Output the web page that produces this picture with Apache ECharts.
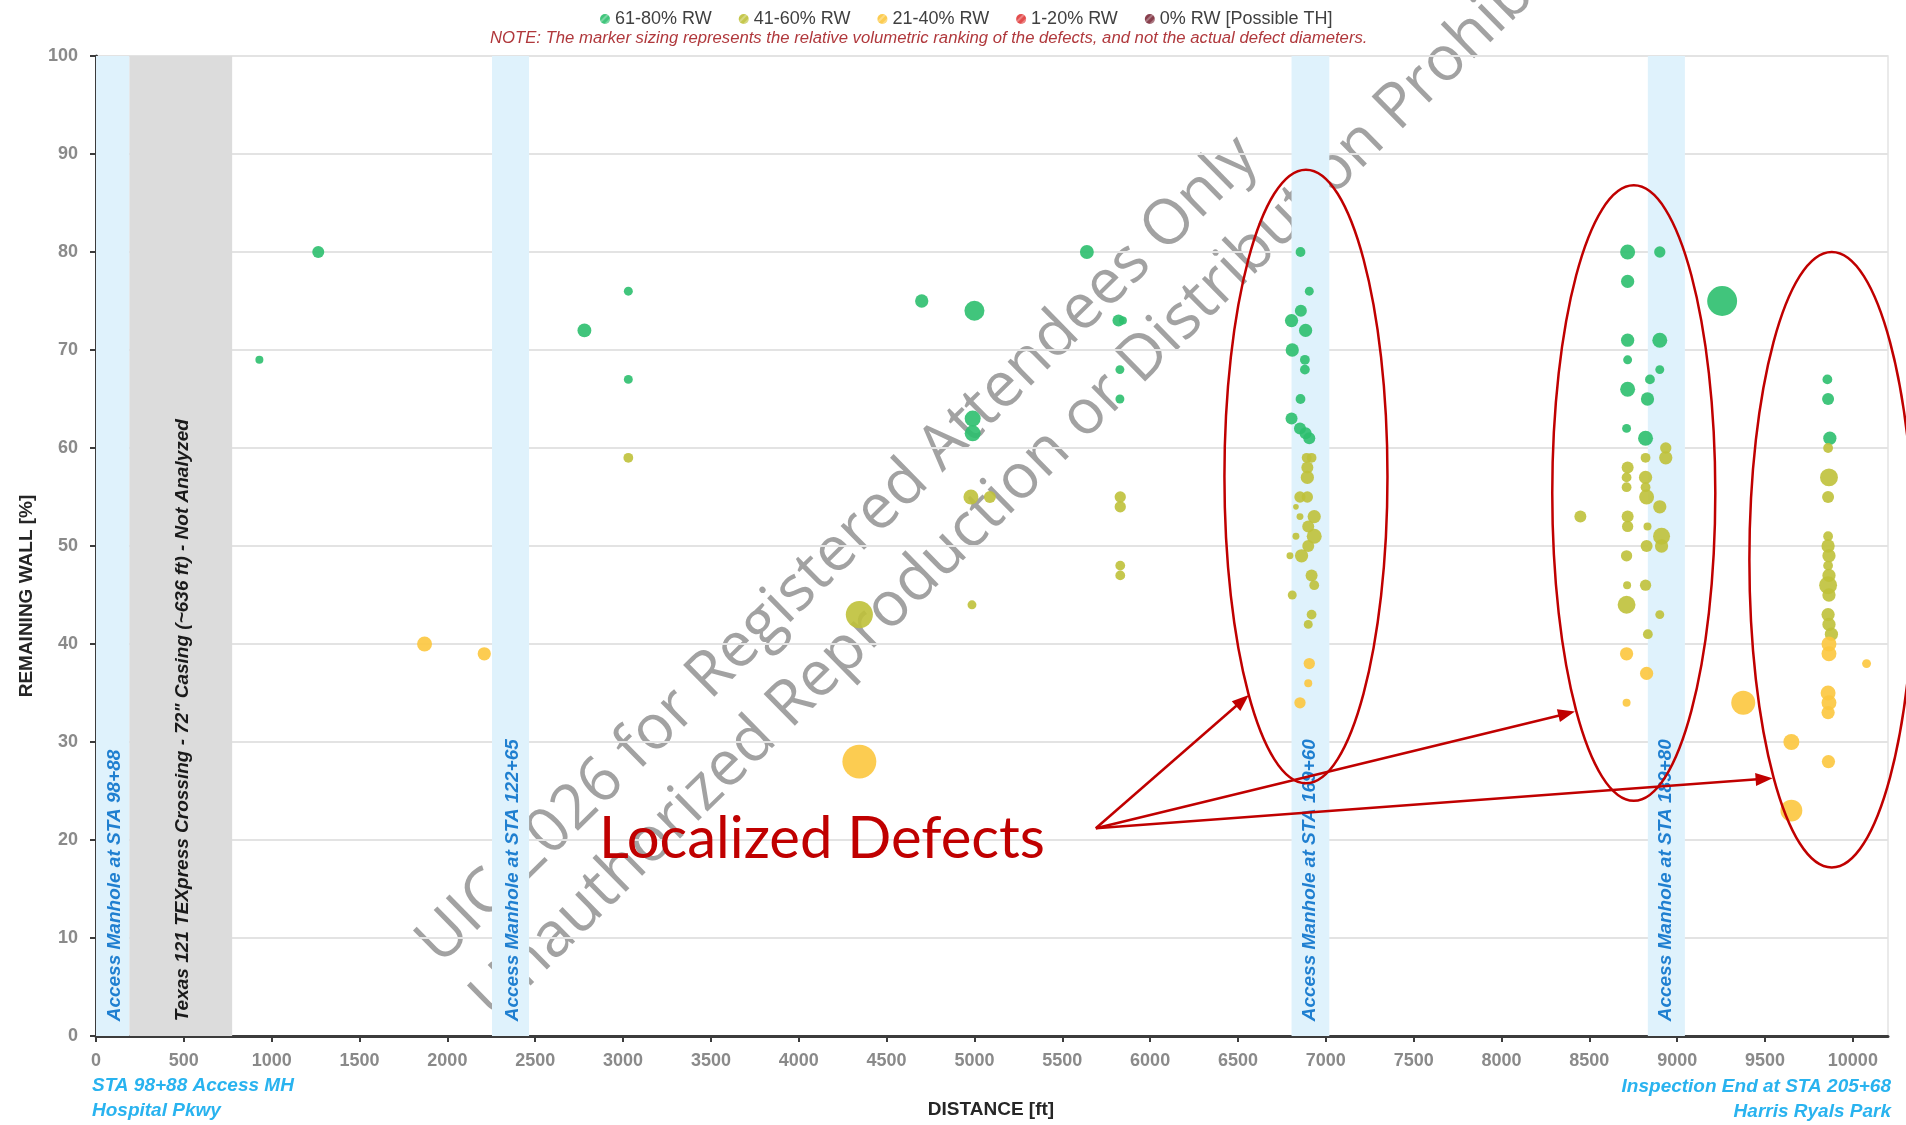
<!DOCTYPE html>
<html>
<head>
<meta charset="utf-8">
<script src="https://cdn.jsdelivr.net/npm/echarts@6/dist/echarts.min.js"></script>
<style>
html,body{margin:0;padding:0;background:#ffffff;}
#c{width:1906px;height:1125px;}
</style>
</head>
<body>
<div id="c"></div>
<script>
// ---------------- DATA ----------------
const seriesNames = ['61-80% RW', '41-60% RW', '21-40% RW', '1-20% RW', '0% RW [Possible TH]'];
const seriesColors = ['#2cbf6e', '#bfc13a', '#fcc63e', '#e03a3a', '#7b2a3a'];

// [distance ft, remaining wall %, relative volumetric ranking]
const rw61to80 = [
  [930,69,4],[1265,80,9],[2780,72,12],[3030,76,5],[3030,67,5],[4700,75,11],[5000,74,25],
  [4990,63,16],[4990,61.5,16],[5640,80,12],[5820,73,9],[5845,73,4],[5828,68,5],[5828,65,5],
  [6856,80,6],[6906,76,5],[6858,74,9],[6805,73,11],[6885,72,11],[6809,70,11],[6881,69,6],
  [6881,68,6],[6856,65,6],[6805,63,9],[6853,62,9],[6885,61.5,9],[6906,61,9],
  [8718,80,14],[8901,80,8],[8718,77,11],[8718,71,11],[8901,71,14],[8718,69,5],[8901,68,5],
  [8845,67,6],[8718,66,14],[8831,65,11],[8712,62,5],[8820,61,14],
  [9256,75,56],
  [9855,67,6],[9859,65,9],[9869,61,11]
];
const rw41to60 = [
  [3030,59,6],[4345,43,46],[4980,55,14],[5088,55,9],[4986,44,5],[5830,55,8],[5830,54,8],
  [5830,48,6],[5830,47,6],
  [6919,59,6],[6891,59,6],[6895,58,9],[6895,57,11],[6853,55,8],[6895,55,8],[6830,54,2],
  [6934,53,11],[6853,53,3],[6900,52,9],[6934,51,14],[6830,51,3],[6900,50,9],[6862,49,11],
  [6796,49,3],[6919,47,9],[6934,46,6],[6809,45,5],[6919,43,6],[6900,42,5],
  [8449,53,9],
  [8935,60,8],[8935,59,11],[8820,59,6],[8718,58,9],[8712,57,6],[8820,57,11],[8712,56,6],
  [8820,56,6],[8826,55,14],[8901,54,11],[8718,53,9],[8718,52,8],[8831,52,4],[8911,51,18],
  [8826,50,9],[8911,50,11],[8712,49,8],[8715,46,4],[8820,46,8],[8712,44,20],[8901,43,5],
  [8833,41,6],
  [9859,60,6],[9864,57,20],[9859,55,9],[9859,51,6],[9859,50,11],[9864,49,11],[9859,48,6],
  [9864,47,11],[9859,46,20],[9864,45,11],[9859,43,11],[9864,42,11],[9878,41,11]
];
const rw21to40 = [
  [1870,40,14],[2210,39,11],[4345,28,72],
  [6906,38,8],[6900,36,4],[6853,34,8],
  [8712,39,11],[8826,37,11],[8712,34,4],
  [9376,34,36],
  [9864,40,14],[9864,39,14],[10078,38,5],[9859,35,14],[9864,34,14],[9859,33,11],
  [9650,30,16],[9861,28,11],[9650,23,30]
];
const rw1to20 = [];
const rw0 = [];

const distanceTicks = [0,500,1000,1500,2000,2500,3000,3500,4000,4500,5000,5500,6000,6500,7000,7500,8000,8500,9000,9500,10000];
const wallTicks = [0,10,20,30,40,50,60,70,80,90,100];

// background zones [from ft, to ft]
const manholeZones = [[0,190],[2254,2465],[6805,7020],[8833,9044]];
const casingZone = [[190,775]];
const zoneLabelX = [108, 495, 2370, 6906, 8936];
const zoneLabelText = [
  'Access Manhole at STA 98+88',
  'Texas 121 TEXpress Crossing - 72" Casing (~636 ft) - Not Analyzed',
  'Access Manhole at STA 122+65',
  'Access Manhole at STA 169+60',
  'Access Manhole at STA 189+80'
];
// highlight ellipses [centre ft, centre %, half-width ft, half-height %]
const clusterEllipses = [[6887,57.1,464,31.3],[8753,55.4,464,31.4],[9880,48.6,469,31.4]];
// arrows [from ft, from %, tip ft, tip %]
const calloutArrows = [[5691,21.2,6562,34.8],[5691,21.2,8418,33.1],[5691,21.2,9543,26.3]];
const calloutText = 'Localized Defects';
const calloutAnchor = [2863, 20.1];

// ---------------- CHART ----------------
const FONT = '"Liberation Sans", Arial, sans-serif';
const chart = echarts.init(document.getElementById('c'));
const hatch = {symbol:'rect', symbolSize:1, dashArrayX:[1,0], dashArrayY:[2,3], rotation:-Math.PI/4, color:'rgba(255,255,255,0.32)'};
const seriesData = [rw61to80, rw41to60, rw21to40, rw1to20, rw0];

const scatterSeries = seriesNames.map((n, i) => ({
  name: n, type: 'scatter', z: 3, data: seriesData[i],
  symbolSize: v => 4 * Math.sqrt(v[2]),
  itemStyle: {color: seriesColors[i], opacity: 0.9, decal: hatch},
  emphasis: {disabled: true}, silent: true
}));

const bandAreas = manholeZones.map(z => [{xAxis: z[0], itemStyle: {color: '#dff2fc'}}, {xAxis: z[1]}])
  .concat(casingZone.map(z => [{xAxis: z[0], itemStyle: {color: '#dcdcdc'}}, {xAxis: z[1]}]));

const option = {
  animation: false,
  backgroundColor: '#ffffff',
  title: {
    text: 'NOTE: The marker sizing represents the relative volumetric ranking of the defects, and not the actual defect diameters.',
    left: 490, top: 30, padding: 0,
    textStyle: {fontSize: 16.7, fontStyle: 'italic', fontWeight: 'normal', color: '#b0383c', fontFamily: FONT}
  },
  legend: {
    data: seriesNames, top: 5, left: 595, itemGap: 27, icon: 'circle', itemWidth: 10, itemHeight: 10,
    textStyle: {fontSize: 18, color: '#404040', fontFamily: FONT}, selectedMode: false
  },
  grid: {left: 96, right: 18, top: 56, bottom: 89, show: true, borderColor: '#e3e3e3', borderWidth: 1.5, containLabel: false},
  xAxis: {
    type: 'value', min: 0, max: 10200,
    axisLine: {show: true, onZero: false, lineStyle: {color: '#3c3c3c', width: 3}},
    axisTick: {show: true, length: 6, lineStyle: {color: '#3c3c3c', width: 2}, customValues: distanceTicks},
    axisLabel: {customValues: distanceTicks, formatter: v => String(v), margin: 16, color: '#8a8a8a', fontSize: 18, fontWeight: 'bold', fontFamily: FONT},
    splitLine: {show: false}
  },
  yAxis: {
    type: 'value', min: 0, max: 100, interval: 10,
    axisLine: {show: true, lineStyle: {color: '#3c3c3c', width: 3}},
    axisTick: {show: true, length: 6, lineStyle: {color: '#3c3c3c', width: 2}},
    axisLabel: {margin: 18, color: '#8a8a8a', fontSize: 18, fontWeight: 'bold', fontFamily: FONT},
    splitLine: {show: true, lineStyle: {color: '#e3e3e3', width: 2}}
  },
  series: [
    {
      name: 'zones', type: 'scatter', data: [], z: 1, silent: true,
      markArea: {silent: true, data: bandAreas, label: {show: false}}
    },
    ...scatterSeries,
    {
      name: 'zoneLabels', type: 'custom', z: 4, silent: true, clip: false,
      data: zoneLabelX.map(x => [x, 1.5]),
      renderItem: (params, api) => {
        const c = api.coord([api.value(0), api.value(1)]);
        const i = params.dataIndex;
        return {
          type: 'text', x: c[0], y: c[1], rotation: Math.PI / 2,
          style: {
            text: zoneLabelText[i], fill: i === 1 ? '#1a1a1a' : '#1f7fd0',
            font: 'italic bold 19px ' + FONT,
            align: 'left', verticalAlign: 'middle', textAlign: 'left', textVerticalAlign: 'middle'
          }
        };
      }
    },
    {
      name: 'callout', type: 'custom', z: 5, silent: true, clip: false,
      data: [calloutAnchor],
      renderItem: (params, api) => {
        const c = api.coord([api.value(0), api.value(1)]);
        return {
          type: 'text', x: c[0], y: c[1],
          style: {text: calloutText, fill: '#c00000', font: '58px Lato, "Open Sans", sans-serif',
            align: 'left', verticalAlign: 'middle', textAlign: 'left', textVerticalAlign: 'middle'}
        };
      }
    },
    {
      name: 'ellipses', type: 'custom', z: 5, silent: true, clip: false,
      data: clusterEllipses,
      renderItem: (params, api) => {
        const c = api.coord([api.value(0), api.value(1)]);
        const s = api.size([api.value(2), api.value(3)]);
        return {type: 'ellipse', shape: {cx: c[0], cy: c[1], rx: s[0], ry: s[1]},
          style: {fill: 'none', stroke: '#c00000', lineWidth: 2.5}};
      }
    },
    {
      name: 'arrows', type: 'custom', z: 5, silent: true, clip: false,
      data: calloutArrows,
      encode: {x: [0, 2], y: [1, 3]},
      renderItem: (params, api) => {
        const p0 = api.coord([api.value(0), api.value(1)]);
        const p1 = api.coord([api.value(2), api.value(3)]);
        const dx = p1[0] - p0[0], dy = p1[1] - p0[1];
        const L = Math.hypot(dx, dy), ux = dx / L, uy = dy / L;
        const hl = 17, hw = 6.5;
        const b = [p1[0] - ux * hl, p1[1] - uy * hl];
        const l = [b[0] - uy * hw, b[1] + ux * hw];
        const r = [b[0] + uy * hw, b[1] - ux * hw];
        return {type: 'group', children: [
          {type: 'line', shape: {x1: p0[0], y1: p0[1], x2: b[0] + ux * 2, y2: b[1] + uy * 2}, style: {stroke: '#c00000', lineWidth: 2.5}},
          {type: 'polygon', shape: {points: [p1, l, r]}, style: {fill: '#c00000'}}
        ]};
      }
    }
  ],
  graphic: [
    {type: 'text', x: 27, y: 596, rotation: Math.PI / 2, z: 10,
      style: {text: 'REMAINING WALL [%]', font: 'bold 19px ' + FONT, fill: '#262626', align: 'center', verticalAlign: 'middle', textAlign: 'center', textVerticalAlign: 'middle'}},
    {type: 'text', x: 991, y: 1110, z: 10,
      style: {text: 'DISTANCE [ft]', font: 'bold 19px ' + FONT, fill: '#262626', align: 'center', verticalAlign: 'middle', textAlign: 'center', textVerticalAlign: 'middle'}},
    {type: 'text', x: 92, y: 1086, z: 10,
      style: {text: 'STA 98+88 Access MH', font: 'italic bold 19px ' + FONT, fill: '#29b3ef', align: 'left', verticalAlign: 'middle', textAlign: 'left', textVerticalAlign: 'middle'}},
    {type: 'text', x: 92, y: 1111, z: 10,
      style: {text: 'Hospital Pkwy', font: 'italic bold 19px ' + FONT, fill: '#29b3ef', align: 'left', verticalAlign: 'middle', textAlign: 'left', textVerticalAlign: 'middle'}},
    {type: 'text', x: 1891, y: 1087, z: 10,
      style: {text: 'Inspection End at STA 205+68', font: 'italic bold 19px ' + FONT, fill: '#29b3ef', align: 'right', verticalAlign: 'middle', textAlign: 'right', textVerticalAlign: 'middle'}},
    {type: 'text', x: 1891, y: 1112, z: 10,
      style: {text: 'Harris Ryals Park', font: 'italic bold 19px ' + FONT, fill: '#29b3ef', align: 'right', verticalAlign: 'middle', textAlign: 'right', textVerticalAlign: 'middle'}},
    {type: 'group', x: 440, y: 966, rotation: 44.5 * Math.PI / 180, z: 100, silent: true,
      children: [
        {type: 'text', x: 0, y: 14, style: {text: 'UIC 2026 for Registered Attendees Only', font: '62.5px "Open Sans", sans-serif', fill: 'rgba(100,100,100,0.6)', align: 'left', verticalAlign: 'bottom', textAlign: 'left', textVerticalAlign: 'bottom'}},
        {type: 'text', x: 0, y: 91, style: {text: 'Unauthorized Reproduction or Distribution Prohibited', font: '62.5px "Open Sans", sans-serif', fill: 'rgba(100,100,100,0.6)', align: 'left', verticalAlign: 'bottom', textAlign: 'left', textVerticalAlign: 'bottom'}}
      ]}
  ]
};
chart.setOption(option);
</script>
</body>
</html>
